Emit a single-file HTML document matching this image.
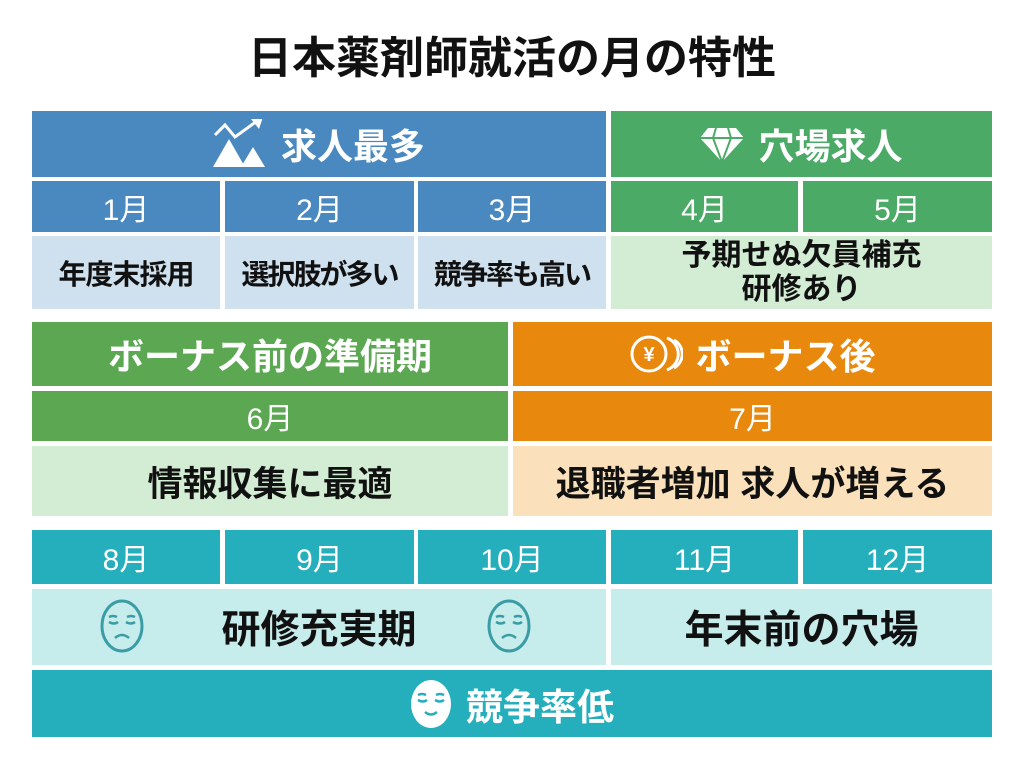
<!DOCTYPE html>
<html><head><meta charset="utf-8"><style>
body{margin:0;background:#fff;width:1024px;height:765px;position:relative;overflow:hidden;font-family:"Liberation Sans","Noto Sans CJK JP",sans-serif}
.b{position:absolute;display:flex;align-items:center;justify-content:center;box-sizing:border-box;text-align:center;white-space:nowrap}
.w{color:#fff;font-weight:bold}
.k{color:#111;font-weight:bold}
h1{position:absolute;top:30px;left:0;width:1024px;text-align:center;margin:0;font-size:44px;font-weight:bold;color:#111;line-height:58px}
.m{font-size:30px;font-weight:normal}
</style></head><body>
<h1>日本薬剤師就活の月の特性</h1>

<div class="b w" style="left:32px;top:111px;width:574px;height:66px;background:#4A88C0;font-size:36px">
<svg width="54" height="50" viewBox="0 0 54 50" style="margin-right:14px"><polygon points="0,48 16,20 32,48" fill="#fff"/><polygon points="28,48 40,28 52,48" fill="#fff"/><polyline points="2,16 12,6 22,18 44,2" fill="none" stroke="#fff" stroke-width="3"/><polygon points="38,0 50,-2 46,10" fill="#fff"/></svg>求人最多</div>
<div class="b w" style="left:611px;top:111px;width:381px;height:66px;background:#4AAA66;font-size:36px">
<svg width="44" height="36" viewBox="0 0 44 36" style="margin-right:14px"><polygon points="8,2 36,2 44,12 22,36 0,12" fill="#fff"/><path d="M0,12H44M16,2L13,12L22,36L31,12L28,2" stroke="#4AAA66" stroke-width="2" fill="none"/></svg>穴場求人</div>

<div class="b w m" style="left:32px;top:181px;width:188px;height:51px;background:#4A88C0">1月</div>
<div class="b w m" style="left:225px;top:181px;width:189px;height:51px;background:#4A88C0">2月</div>
<div class="b w m" style="left:418px;top:181px;width:188px;height:51px;background:#4A88C0">3月</div>
<div class="b w m" style="left:611px;top:181px;width:187px;height:51px;background:#4AAA66">4月</div>
<div class="b w m" style="left:803px;top:181px;width:189px;height:51px;background:#4AAA66">5月</div>

<div class="b k" style="left:32px;top:236px;width:188px;height:73px;background:#CFE0EE;font-size:28px;letter-spacing:-1px">年度末採用</div>
<div class="b k" style="left:225px;top:236px;width:189px;height:73px;background:#CFE0EE;font-size:28px;letter-spacing:-2px">選択肢が多い</div>
<div class="b k" style="left:418px;top:236px;width:188px;height:73px;background:#CFE0EE;font-size:28px;letter-spacing:-2px">競争率も高い</div>
<div class="b k" style="left:611px;top:236px;width:381px;height:73px;background:#D3EDD4;font-size:30px;line-height:34px;flex-direction:column">予期せぬ欠員補充<br>研修あり</div>

<div class="b w" style="left:32px;top:322px;width:476px;height:64px;background:#5BA752;font-size:36px">ボーナス前の準備期</div>
<div class="b w" style="left:513px;top:322px;width:479px;height:64px;background:#E8880C;font-size:36px">
<svg width="54" height="40" viewBox="0 0 54 40" style="margin-right:12px"><circle cx="20" cy="20" r="17" fill="none" stroke="#fff" stroke-width="3"/><text x="20" y="27" font-size="20" fill="#fff" text-anchor="middle" font-family="Liberation Sans">¥</text><path d="M38,4A17,17 0 0 1 38,36" fill="none" stroke="#fff" stroke-width="3"/><path d="M45,6A16,16 0 0 1 45,34" fill="none" stroke="#fff" stroke-width="3"/></svg>ボーナス後</div>

<div class="b w m" style="left:32px;top:391px;width:476px;height:50px;background:#5BA752">6月</div>
<div class="b w m" style="left:513px;top:391px;width:479px;height:50px;background:#E8880C">7月</div>

<div class="b k" style="left:32px;top:446px;width:476px;height:70px;background:#D3EDD4;font-size:35px">情報収集に最適</div>
<div class="b k" style="left:513px;top:446px;width:479px;height:70px;background:#FAE1BC;font-size:35px">退職者増加 求人が増える</div>

<div class="b w m" style="left:32px;top:530px;width:188px;height:54px;background:#25AEBC">8月</div>
<div class="b w m" style="left:225px;top:530px;width:189px;height:54px;background:#25AEBC">9月</div>
<div class="b w m" style="left:418px;top:530px;width:188px;height:54px;background:#25AEBC">10月</div>
<div class="b w m" style="left:611px;top:530px;width:187px;height:54px;background:#25AEBC">11月</div>
<div class="b w m" style="left:803px;top:530px;width:189px;height:54px;background:#25AEBC">12月</div>

<div class="b k" style="left:32px;top:589px;width:574px;height:76px;background:#C7ECEC;font-size:39px">研修充実期</div>
<svg style="position:absolute;left:99px;top:598px" width="46" height="56" viewBox="0 0 46 56"><ellipse cx="23" cy="28" rx="20" ry="25" fill="none" stroke="#3A9DA5" stroke-width="3"/><path d="M10,24q5,3 9,0M27,24q5,3 9,0M10,19q4,-2 8,0M28,19q4,-2 8,0M16,40q7,-6 14,0" fill="none" stroke="#3A9DA5" stroke-width="2.5"/></svg>
<svg style="position:absolute;left:486px;top:598px" width="46" height="56" viewBox="0 0 46 56"><ellipse cx="23" cy="28" rx="20" ry="25" fill="none" stroke="#3A9DA5" stroke-width="3"/><path d="M10,24q5,3 9,0M27,24q5,3 9,0M10,19q4,-2 8,0M28,19q4,-2 8,0M16,40q7,-6 14,0" fill="none" stroke="#3A9DA5" stroke-width="2.5"/></svg>
<div class="b k" style="left:611px;top:589px;width:381px;height:76px;background:#C7ECEC;font-size:39px">年末前の穴場</div>

<div class="b w" style="left:32px;top:670px;width:960px;height:67px;background:#25AEBC;font-size:37px">
<svg width="42" height="50" viewBox="0 0 42 50" style="margin-right:14px"><ellipse cx="21" cy="25" rx="20" ry="24" fill="#fff"/><path d="M8,21q5,3 9,0M25,21q5,3 9,0M8,16q4,-2 8,0M26,16q4,-2 8,0M15,33q6,5 12,0" fill="none" stroke="#25AEBC" stroke-width="2.5"/></svg>競争率低</div>
</body></html>
